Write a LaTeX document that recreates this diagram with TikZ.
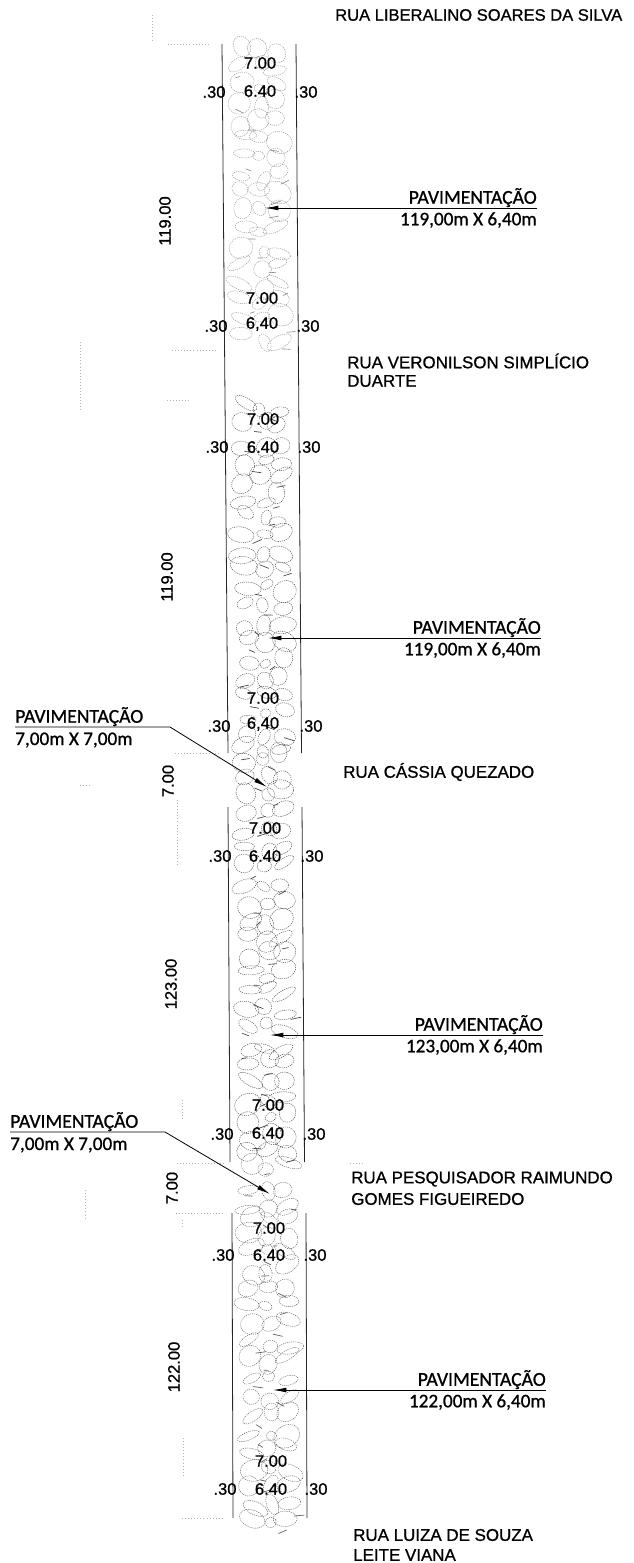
\documentclass[tikz,border=0pt]{standalone}
\usepackage{fontspec}
\setmainfont{Liberation Sans}[FakeBold=0.9]
\newfontfamily\pavfont{Carlito}[FakeBold=0.9]
\usetikzlibrary{arrows.meta}
\tikzset{
    ruatext/.style={anchor=west, inner sep=0pt, font=\fontsize{12.7}{14}\selectfont},
    dimtext/.style={inner sep=0pt, font=\fontsize{12.4}{14}\selectfont},
    pavtext/.style={inner sep=0pt, text depth=3pt, font=\pavfont\fontsize{14.7}{16}\selectfont},
    sizetext/.style={inner sep=0pt, font=\pavfont\fontsize{14.4}{16}\selectfont},
    roadline/.style={black!85, line width=0.6pt},
    stone/.style={dash pattern=on 0.9pt off 0.7pt, line width=0.3pt},
    chip/.style={black!80, line width=0.5pt, line cap=round},
    faint/.style={black!30, dotted, line width=0.3pt},
    leader/.style={-{Latex[length=10pt,width=3.6pt]}, line width=0.6pt}
}
\begin{document}
\begin{tikzpicture}[x=0.75pt,y=-0.75pt]
    \useasboundingbox (0,0) rectangle (634,1563);
    \pgfmathsetseed{42}
    % Cobblestones of each stretch
    \foreach \ya/\yb/\sshade in {50/340/45, 408/750/75, 758/804/75, 812/1160/75, 1168/1208/65, 1216/1528/65}{
        \pgfmathsetmacro\ynext{\ya+18}
        \foreach \sy in {\ya,\ynext,...,\yb}{
            \pgfmathsetmacro\cx{259+0.00746*(\sy-44)}
            \foreach \off in {-18,1,18}{
                \pgfmathsetmacro\sx{\cx+\off+rand*4}
                \pgfmathsetmacro\ty{\sy+rand*6}
                \pgfmathsetmacro\rx{int(\off==1)*5+int(\off!=1)*8+rnd*6}
                \pgfmathsetmacro\ry{4+rnd*7}
                \pgfmathsetmacro\tilt{rand*35}
                \draw[stone, draw=black!\sshade, rotate around={\tilt:(\sx,\ty)}] (\sx,\ty) ellipse (\rx pt*0.75 and \ry pt*0.75);
            }
            % dark chips between the stones
            \pgfmathsetmacro\chipx{\cx+rand*26}
            \pgfmathsetmacro\chipy{\sy+9+rand*4}
            \pgfmathsetmacro\chipdx{4+rnd*6}
            \pgfmathsetmacro\chipdy{rand*4}
            \draw[chip, draw=black!\sshade] (\chipx,\chipy) -- ++(\chipdx,\chipdy);
        }
    }
    % Road edges
    \draw[roadline] (222,44) -- (228,753);
    \draw[roadline] (296,44) -- (301.5,753);
    \draw[roadline] (228,807) -- (230,1162);
    \draw[roadline] (302,807) -- (304.5,1162);
    \draw[roadline] (232,1213) -- (233,1518);
    \draw[roadline] (306,1213) -- (307,1518);
    % Faint traces of the extension lines
    \foreach \xa/\ya/\xb/\yb in {168/44/210/44, 152/15/152/40, 172/350/215/350, 80/342/80/412, 167/400/190/400,
        175/753/220/753, 177/800/177/865, 80/785/90/785, 177/1163/225/1163, 176/1213/224/1213, 182/1220/182/1228,
        85/1190/85/1220, 183/1438/183/1476, 182/1518/222/1518, 350/1163/365/1163, 182/1100/182/1120}{
        \draw[faint] (\xa,\ya) -- (\xb,\yb);
    }
    % Street names
    \node[ruatext, font=\fontsize{12.4}{14}\selectfont] (rua1) at (335,15) {RUA LIBERALINO SOARES DA SILVA};
    \node[ruatext] (rua2) at (347,361) {RUA VERONILSON SIMPLÍCIO};
    \node[ruatext] (rua2b) at (347,381) {DUARTE};
    \node[ruatext] (rua3) at (343,772) {RUA CÁSSIA QUEZADO};
    \node[ruatext] (rua4) at (351,1179) {RUA PESQUISADOR RAIMUNDO};
    \node[ruatext] (rua4b) at (351,1199) {GOMES FIGUEIREDO};
    \node[ruatext] (rua5) at (353,1535) {RUA LUIZA DE SOUZA};
    \node[ruatext] (rua5b) at (353,1555) {LEITE VIANA};
    % Widths across the road
    \foreach \nam/\xmid/\xleft/\xright/\yfull/\yroad/\ykerb/\sixforty in {
        a/260/214/306/63/91/92/6.40, b/262/216/308/298/324/326/{6,40},
        c/263/217/309/419/447/447/6.40, d/263/219/311/698/724/726/{6,40},
        e/265/220/312/828/856/856/6.40, f/268/222/314/1105/1133/1134/6.40,
        g/269/223/315/1228/1255/1255/6.40, h/271/225/316/1461/1489/1489/6.40}{
        \node[dimtext] (full\nam) at (\xmid,\yfull) {7.00};
        \node[dimtext] (road\nam) at (\xmid,\yroad) {\sixforty};
        \node[dimtext] (kerbl\nam) at (\xleft,\ykerb) {.30};
        \node[dimtext] (kerbr\nam) at (\xright,\ykerb) {.30};
    }
    % Lengths along the road
    \foreach \nam/\px/\py/\len in {s1/165/221/119.00, s2/167/577/119.00, s3/168/781/7.00, s4/171/984/123.00, s5/172/1188/7.00, s6/174/1367/122.00}{
        \node[dimtext, rotate=90] (len\nam) at (\px,\py) {\len};
    }
    % Paving labels on the right
    \foreach \i/\px/\py/\tipx/\area in {1/537/208/265/{119,00m X 6,40m}, 2/541/638/268/{119,00m X 6,40m}, 3/543/1035/270/{123,00m X 6,40m}, 4/546/1390/273/{122,00m X 6,40m}}{
        \node[pavtext, anchor=south east] (pav\i) at (\px,\py) {PAVIMENTAÇÃO};
        \node[sizetext, anchor=east] (area\i) at (\px,\py+12) {\area};
        \coordinate (tip\i) at (\tipx,\py);
        \draw[leader] (pav\i.south east) -- (tip\i);
    }
    % Paving labels on the left
    \node[pavtext, anchor=south west] (pav5) at (15,727) {PAVIMENTAÇÃO};
    \node[sizetext, anchor=west] (area5) at (15,740) {7,00m X 7,00m};
    \coordinate (kink5) at (170,727);
    \coordinate (tip5) at (267,787);
    \draw[leader] (pav5.south west) -- (kink5) -- (tip5);
    \node[pavtext, anchor=south west] (pav6) at (10,1132) {PAVIMENTAÇÃO};
    \node[sizetext, anchor=west] (area6) at (10,1145) {7,00m X 7,00m};
    \coordinate (kink6) at (165,1132);
    \coordinate (tip6) at (270,1194);
    \draw[leader] (pav6.south west) -- (kink6) -- (tip6);
\end{tikzpicture}
\end{document}
